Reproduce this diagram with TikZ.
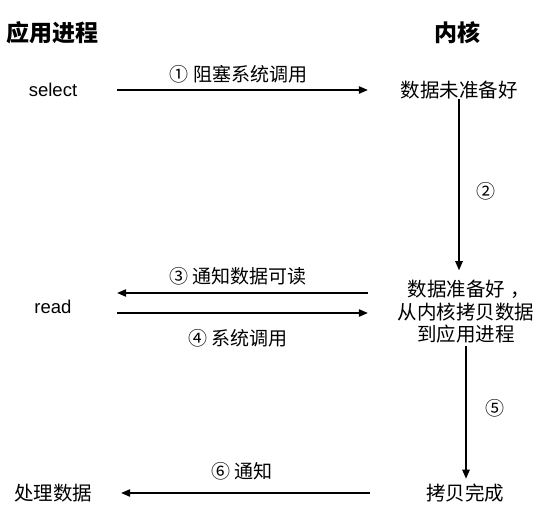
\documentclass[tikz,border=0pt]{standalone}
\usepackage{fontspec}
\setmainfont{Liberation Sans}
\newfontfamily\cjk{Noto Sans CJK SC}
\usetikzlibrary{arrows.meta}
\begin{document}
\begin{tikzpicture}[x=1pt,y=-1pt,
  txt/.style={inner sep=0pt, font=\cjk\fontsize{19.5}{22.5}\selectfont, align=center},
  lat/.style={inner sep=0pt, font=\fontsize{18.5}{22}\selectfont},
  ttl/.style={inner sep=0pt, font=\cjk\bfseries\fontsize{23}{26}\selectfont},
  arr/.style={-{Triangle[length=9pt,width=7.5pt]}, line width=1.1pt, draw=black},
  lbl/.style={inner sep=0pt, font=\cjk\fontsize{19}{22}\selectfont}]
\useasboundingbox (0,0) rectangle (544,506);
\fill[white] (0,0) rectangle (544,506);
\node[ttl] (t1) at (52.5,33) {应用进程};
\node[ttl] (t2) at (457.5,33) {内核};
\node[lat, minimum width=128pt] (sel) at (53,90) {select};
\node[txt, minimum width=182pt] (k1) at (459,90) {数据未准备好};
\node[lat, minimum width=128pt] (rd) at (53,307) {read};
\node[txt, minimum width=196pt] (k2) at (466,312) {数据准备好\kern6pt，\kern-6pt\\从内核拷贝数据\\到应用进程};
\node[txt, minimum width=190pt] (k3) at (465,493) {拷贝完成};
\node[txt, minimum width=135pt] (pd) at (53.5,493) {处理数据};
\draw[arr] (sel.east) -- (k1.west) node[lbl, midway, xshift=-4pt, yshift=16pt] {① 阻塞系统调用};
\draw[arr] (k1.south) -- (k1.south |- k2.north) [shorten >=10pt] node[lbl, midway, xshift=27pt, yshift=-2pt] {②};
\draw[arr] ([yshift=14pt]rd.east -| k2.west) -- ([yshift=14pt]rd.east) node[lbl, midway, xshift=-4.5pt, yshift=17pt] {③ 通知数据可读};
\draw[arr] ([yshift=-6pt]rd.east) -- ([yshift=-6pt]rd.east -| k2.west) node[lbl, midway, xshift=-4.5pt, yshift=-25pt] {④ 系统调用};
\draw[arr, shorten <=2pt, shorten >=5pt] (k2.south) -- (k2.south |- k3.north) node[lbl, midway, xshift=29pt, yshift=5pt] {⑤};
\draw[arr] (k3.west) -- (pd.east) node[lbl, midway, xshift=-3.5pt, yshift=22pt] {⑥ 通知};
\end{tikzpicture}
\end{document}
